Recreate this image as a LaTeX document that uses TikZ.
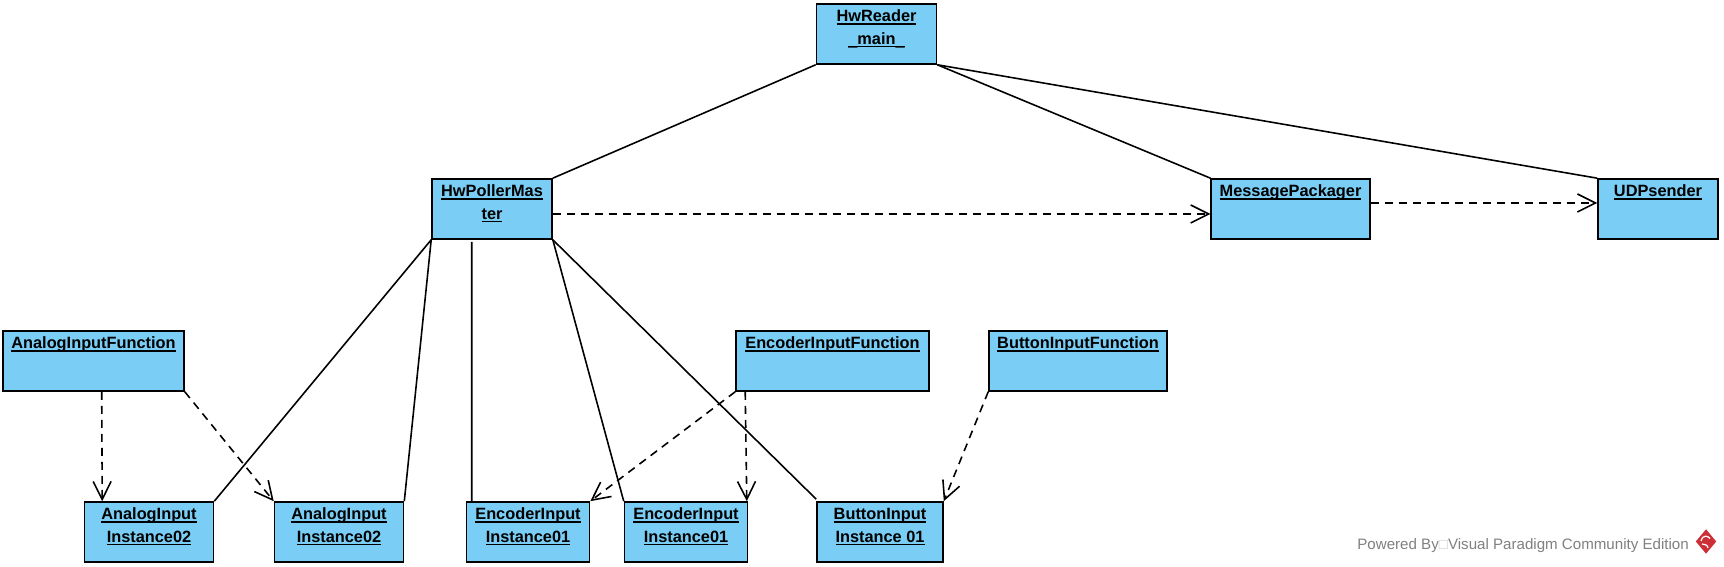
\documentclass[tikz,border=0pt]{standalone}
\usepackage{fontspec}
\setmainfont{Liberation Sans}
\usetikzlibrary{arrows.meta, shapes.geometric}
\definecolor{objblue}{HTML}{7ACEF5}
\definecolor{vpgrey}{HTML}{808080}
\definecolor{vpred}{HTML}{CC2F36}
\newcommand{\objname}[1]{\setbox0=\hbox{#1}\rlap{\rule[-0.028cm]{\wd0}{0.014cm}}\box0}
\newcommand{\lowbar}{\raisebox{-0.025cm}{\_}}

\begin{document}
\begin{tikzpicture}[
            object/.style={rectangle, draw=black, fill=objblue, line width=0.45pt, inner sep=0pt, align=center, font=\fontsize{4.65}{6.45}\selectfont\bfseries, text height=0.18cm, text depth=0.42cm},
            object two/.style={object, text height=0.405cm, text depth=0.195cm},
            link/.style={line width=0.45pt},
            depend/.style={line width=0.45pt, dash pattern=on 0.08cm off 0.06cm, -{Straight Barb[length=0.18cm, width=0.18cm]}}
        ]
\useasboundingbox (0,0) rectangle (17.24,5.67);

% Main process
            \node[object two, minimum width=1.20cm] (hw_reader) at (8.765,5.33) {\objname{HwReader}\\\objname{\lowbar main\lowbar}};

% Second row
            \node[object two, minimum width=1.20cm] (hw_poller) at (4.92,3.58) {\objname{HwPollerMas}\\\objname{ter}};
            \node[object, minimum width=1.585cm] (msg_packager) at (12.905,3.58) {\objname{MessagePackager}};
            \node[object, minimum width=1.20cm] (udp_sender) at (16.58,3.58) {\objname{UDPsender}};

% Functions
            \node[object, minimum width=1.81cm] (analog_func) at (0.935,2.06) {\objname{AnalogInputFunction}};
            \node[object, minimum width=1.93cm] (encoder_func) at (8.325,2.06) {\objname{EncoderInputFunction}};
            \node[object, minimum width=1.78cm] (button_func) at (10.78,2.06) {\objname{ButtonInputFunction}};

% Instances
            \node[object two, minimum width=1.29cm] (analog_inst_a) at (1.49,0.35) {\objname{AnalogInput}\\\objname{Instance02}};
            \node[object two, minimum width=1.29cm] (analog_inst_b) at (3.39,0.35) {\objname{AnalogInput}\\\objname{Instance02}};
            \node[object two, minimum width=1.23cm] (encoder_inst_a) at (5.28,0.35) {\objname{EncoderInput}\\\objname{Instance01}};
            \node[object two, minimum width=1.23cm] (encoder_inst_b) at (6.86,0.35) {\objname{EncoderInput}\\\objname{Instance01}};
            \node[object two, minimum width=1.26cm] (button_inst) at (8.80,0.35) {\objname{ButtonInput}\\\objname{Instance 01}};

% Associations
            \draw[link] (hw_reader.south west) -- (hw_poller.north east);
            \draw[link] (hw_reader.south east) -- (msg_packager.north west);
            \draw[link] (hw_reader.south east) -- (udp_sender.north west);
            \draw[link] (hw_poller.south west) -- (analog_inst_a.north east);
            \draw[link] (hw_poller.south west) -- (analog_inst_b.north east);
            \draw[link] ([xshift=0.405cm, yshift=-0.02cm]hw_poller.south west) -- ([xshift=0.06cm]encoder_inst_a.north west);
            \draw[link] (hw_poller.south east) -- (encoder_inst_b.north west);
            \draw[link] (hw_poller.south east) -- ([yshift=0.02cm]button_inst.north west);

% Dependencies
            \draw[depend] ([yshift=-0.05cm]hw_poller.east) -- ([yshift=-0.05cm]msg_packager.west);
            \draw[depend] ([yshift=0.06cm]msg_packager.east) -- ([yshift=0.06cm]udp_sender.west);
            \draw[depend] ([xshift=0.995cm]analog_func.south west) -- ([xshift=0.185cm]analog_inst_a.north west);
            \draw[depend] (analog_func.south east) -- (analog_inst_b.north west);
            \draw[depend] (encoder_func.south west) -- (encoder_inst_a.north east);
            \draw[depend] ([xshift=0.10cm]encoder_func.south west) -- ([xshift=-0.015cm]encoder_inst_b.north east);
            \draw[depend] (button_func.south west) -- (button_inst.north east);

% Watermark
            \node[anchor=base east, inner sep=0pt, text=vpgrey, font=\fontsize{4.3}{6}\selectfont] (vp_mark) at (16.895,0.17) {Powered By{\color{vpgrey!40}□}Visual Paradigm Community Edition};
            \node[diamond, fill=vpred, inner sep=0pt, minimum width=0.21cm, minimum height=0.25cm] (vp_logo) at (17.06,0.255) {};
            \draw[white, line width=0.35pt] (17.01,0.26) .. controls (17.03,0.33) and (17.08,0.31) .. (17.10,0.285);
            \draw[white, line width=0.35pt] (17.02,0.23) .. controls (17.05,0.22) and (17.07,0.23) .. (17.08,0.19);

        \end{tikzpicture}
\end{document}
